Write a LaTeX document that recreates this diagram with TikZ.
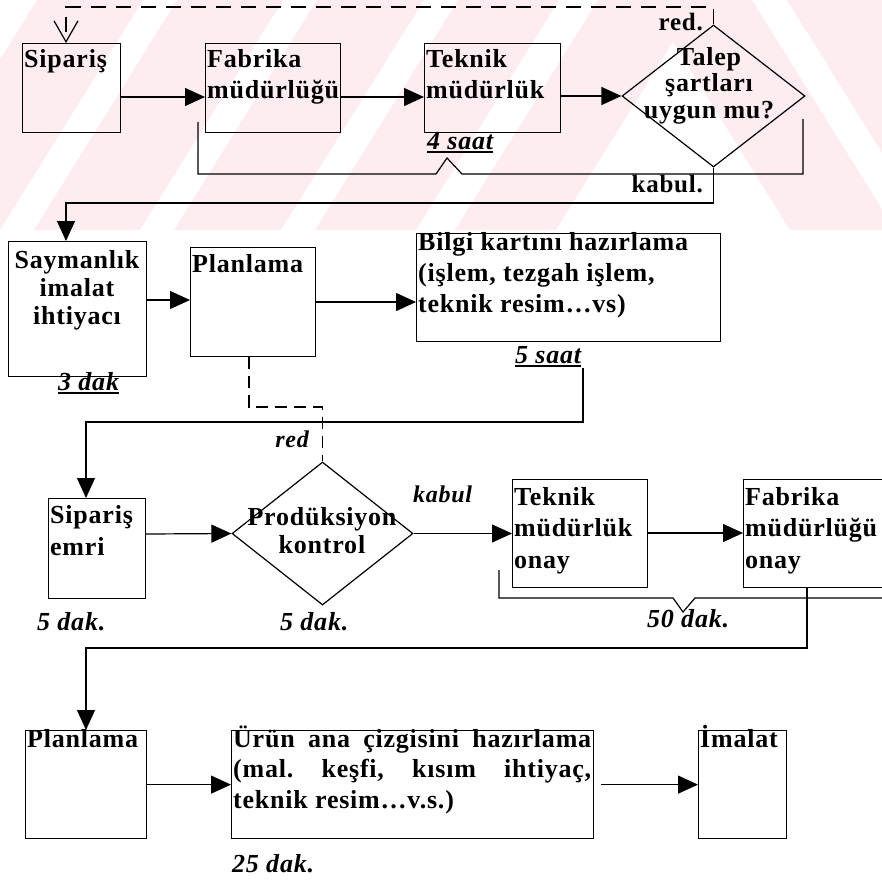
\documentclass[tikz,border=0pt]{standalone}
\usepackage{fontspec}
\setmainfont{Liberation Serif}[LetterSpace=3]
\usetikzlibrary{shapes.geometric, arrows.meta}
\definecolor{wmpink}{RGB}{253,237,240}
\frenchspacing
% thick underline under a label, kept on the label's baseline
\newcommand\ulbox[1]{\vtop{\hbox{#1}\kern2pt\hrule height 2pt}}
\begin{document}
\begin{tikzpicture}[x=1pt, y=-1pt,
  box/.style={draw, line width=1.2pt, inner sep=0pt, anchor=north west},
  dia/.style={draw, diamond, line width=1.2pt, inner sep=0pt},
  conn/.style={line width=1.2pt},
  arr/.style={conn, -{Triangle[length=20pt, width=18pt]}},
  dashline/.style={conn, dash pattern=on 12pt off 7pt},
  txt/.style={inner sep=0pt, anchor=base west, font=\fontsize{26}{31}\selectfont\bfseries},
  ctxt/.style={txt, anchor=base},
  lab/.style={inner sep=0pt, anchor=base west, font=\fontsize{26}{30}\selectfont\bfseries\itshape},
  smlab/.style={inner sep=0pt, font=\fontsize{24}{28}\selectfont\bfseries\itshape},
  uplab/.style={inner sep=0pt, anchor=base east, font=\fontsize{25}{29}\selectfont\bfseries},
]
\useasboundingbox (0,0) rectangle (882,879);

% faint background watermark stripes
\begin{scope}
  \clip (0,0) rectangle (882,230);
  \foreach \a/\b in {-106/0, 34/140, 174/281, 315/416, 455/556}
    \fill[wmpink] (\a,230) -- (\b,230) -- (\b+143,0) -- (\a+143,0) -- cycle;
  \foreach \a/\b in {790/895, 930/1035}
    \fill[wmpink] (\a,230) -- (\b,230) -- (\b-143,0) -- (\a-143,0) -- cycle;
\end{scope}

% ---- row 1 ----
\node[box, minimum width=98pt,  minimum height=89pt] (sip) at (22,43) {};
\node[box, minimum width=135pt, minimum height=89pt] (fab) at (205,43) {};
\node[box, minimum width=136pt, minimum height=89pt] (tek) at (424,43) {};
\node[dia, minimum width=183pt, minimum height=142pt] (d1) at (713.5,96) {};

\node[txt] (tsip) at (24,67) {Sipariş};
\node[txt] (tfab) at (207,67) {\parbox[t]{140pt}{\raggedright Fabrika\\müdürlüğü}};
\node[txt] (ttek) at (426,67) {\parbox[t]{140pt}{\raggedright Teknik\\müdürlük}};
\node[ctxt] (td1) at (709,65) {\parbox[t]{200pt}{\centering\fontsize{26}{26.5}\selectfont Talep\\şartları\\uygun mu?}};

\node[uplab] (lred1) at (703,30) {red.};
\node[uplab] (lkab1) at (703,192) {kabul.};
\node[lab] (l4saat) at (427,149) {\ulbox{4 saat}};

\draw[arr] (sip.east |- 0,97) -- (fab.west |- 0,97);
\draw[arr] (fab.east |- 0,97) -- (tek.west |- 0,97);
\draw[arr] (tek.east |- 0,96) -- (d1.west);
\draw[conn, dash pattern=on 15pt off 10pt, -{Straight Barb[length=21pt, width=24pt]}]
  (d1.north) -- (d1.north |- 0,7) -- (66,7) -- (sip.north -| 66,0);
\draw[conn] (198,122) -- (198,174) -- (436,174) -- (447,158) -- (462,174) -- (803,174) -- (803,119);
\draw[arr] (d1.south) -- (d1.south |- 0,203) -- (66,203) -- (66,241);

% ---- row 2 ----
\node[box, minimum width=138pt, minimum height=135pt] (say) at (8,241) {};
\node[box, minimum width=125pt, minimum height=109pt] (plan1) at (190,247) {};
\node[box, minimum width=304pt, minimum height=108pt] (bilgi) at (416,233) {};

\node[ctxt] (tsay) at (77,268) {\parbox[t]{138pt}{\centering\fontsize{26}{28}\selectfont Saymanlık\\imalat\\ihtiyacı}};
\node[txt] (tplan1) at (192,272) {Planlama};
\node[txt] (tbilgi) at (418,250) {\parbox[t]{300pt}{\raggedright Bilgi kartını hazırlama\\(işlem, tezgah işlem,\\teknik resim…vs)}};

\node[lab] (l3dak) at (58,390) {\ulbox{3 dak}};
\node[lab] (l5saat) at (515,363) {\ulbox{5 saat}};

\draw[arr] (say.east |- 0,300) -- (plan1.west |- 0,300);
\draw[arr] (plan1.east |- 0,302) -- (bilgi.west |- 0,302);

% ---- row 3 ----
\node[box, minimum width=97pt,  minimum height=100pt] (sipemri) at (48,498) {};
\node[dia, minimum width=181pt, minimum height=143pt] (d2) at (322.5,533.5) {};
\node[box, minimum width=135pt, minimum height=108pt] (tekonay) at (512,479) {};
\node[box, minimum width=152pt, minimum height=108pt] (fabonay) at (743,479) {};

\node[txt] (tsipemri) at (50,523) {\parbox[t]{120pt}{\raggedright\fontsize{26}{32}\selectfont Sipariş\\emri}};
\node[ctxt] (td2) at (322,525) {\parbox[t]{220pt}{\centering\fontsize{26}{28}\selectfont Prodüksiyon\\kontrol}};
\node[txt] (ttekonay) at (514,505) {\parbox[t]{140pt}{\raggedright\fontsize{26}{31.5}\selectfont Teknik\\müdürlük\\onay}};
\node[txt] (tfabonay) at (745,505) {\parbox[t]{150pt}{\raggedright\fontsize{26}{31.5}\selectfont Fabrika\\müdürlüğü\\onay}};

\node[smlab, anchor=base east] (lred2) at (309,447) {red};
\node[smlab, anchor=base west] (lkab2) at (413,502) {kabul};
\node[lab] (l5dak1) at (37,630) {5 dak.};
\node[lab] (l5dak2) at (280,630) {5 dak.};
\node[lab] (l50dak) at (647,627) {50 dak.};

\coordinate (c5saat) at (583,368);
\draw[arr] (c5saat) -- (583,422) -- (86,422) -- (sipemri.north -| 86,0);
\draw[dashline] (plan1.south -| 249,0) -- (249,407) -- (d2.north |- 0,407) -- (d2.north);
\draw[arr] (sipemri.east |- 0,534) -- (d2.west);
\draw[arr] (d2.east) -- (tekonay.west |- 0,533.5);
\draw[arr] (tekonay.east |- 0,533) -- (fabonay.west |- 0,533);
\draw[conn] (499,570) -- (499,598) -- (673,598) -- (683,612) -- (695,598) -- (890,598);

% ---- row 4 ----
\node[box, minimum width=121pt, minimum height=108pt] (plan2) at (25,730) {};
\node[box, minimum width=362pt, minimum height=108pt] (urun) at (231,730) {};
\node[box, minimum width=88pt,  minimum height=108pt] (imalat) at (698,730) {};

\node[txt] (tplan2) at (27,747) {Planlama};
\node[txt] (turun) at (233,747) {\parbox[t]{358pt}{\frenchspacing\fontsize{26}{30.5}\selectfont Ürün ana çizgisini hazırlama\linebreak (mal. keşfi, kısım ihtiyaç,\linebreak teknik resim…v.s.)}};
\node[txt] (timalat) at (700,747) {İmalat};
\node[lab] (l25dak) at (232,872) {25 dak.};

\draw[arr] (fabonay.south -| 807,0) -- (807,648) -- (86,648) -- (plan2.north -| 86,0);
\draw[arr] (plan2.east) -- (urun.west);
\draw[arr] ([xshift=7pt]urun.east) -- (imalat.west);
\end{tikzpicture}
\end{document}
